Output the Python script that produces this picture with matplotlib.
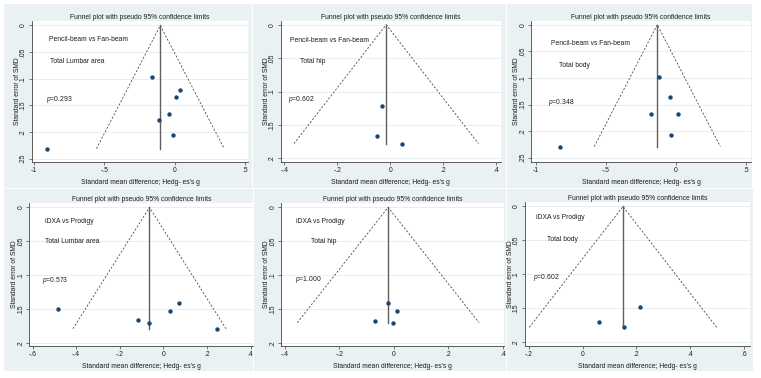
import matplotlib
matplotlib.use("Agg")
import numpy as np
from matplotlib import pyplot as plt
from matplotlib.patches import Rectangle

plt.rcParams['font.family'] = ['Liberation Sans', 'DejaVu Sans']
plt.rcParams['mathtext.fontset'] = 'custom'
plt.rcParams['mathtext.it'] = 'Liberation Sans:italic'
plt.rcParams['mathtext.rm'] = 'Liberation Sans'

# data
comparisons = ["Pencil-beam vs Fan-beam", "Pencil-beam vs Fan-beam", "Pencil-beam vs Fan-beam",
               "iDXA vs Prodigy", "iDXA vs Prodigy", "iDXA vs Prodigy"]
sites = ["Total Lumbar area", "Total hip", "Total body",
         "Total Lumbar area", "Total hip", "Total body"]
p_values = ["0.293", "0.602", "0.348", "0.573", "1.000", "0.602"]
pooled_smd = [-0.102, -0.015, -0.134, -0.064, -0.021, 0.150]

smd_1 = [-0.903, -0.158, 0.038, 0.009, -0.043, -0.113, -0.014]
se_1 = [0.231, 0.0975, 0.121, 0.134, 0.166, 0.177, 0.205]
smd_2 = [-0.031, -0.048, 0.045]
se_2 = [0.122, 0.167, 0.178]
smd_3 = [-0.830, -0.122, -0.043, -0.179, 0.010, -0.038]
se_3 = [0.229, 0.0975, 0.135, 0.1675, 0.1675, 0.207]
smd_4 = [-0.484, -0.115, -0.066, 0.031, 0.070, 0.246]
se_4 = [0.1495, 0.1667, 0.1706, 0.153, 0.1416, 0.179]
smd_5 = [-0.021, 0.010, -0.071, -0.002]
se_5 = [0.141, 0.153, 0.167, 0.170]
smd_6 = [0.062, 0.155, 0.212]
se_6 = [0.1706, 0.178, 0.148]

smd_all = [smd_1, smd_2, smd_3, smd_4, smd_5, smd_6]
se_all = [se_1, se_2, se_3, se_4, se_5, se_6]

xticks_all = [[-1, -0.5, 0, 0.5], [-0.4, -0.2, 0, 0.2, 0.4], [-1, -0.5, 0, 0.5],
              [-0.6, -0.4, -0.2, 0, 0.2, 0.4], [-0.4, -0.2, 0, 0.2, 0.4],
              [-0.2, 0, 0.2, 0.4, 0.6]]
yticks_all = [[0, 0.05, 0.1, 0.15, 0.2, 0.25], [0, 0.05, 0.1, 0.15, 0.2],
              [0, 0.05, 0.1, 0.15, 0.2, 0.25], [0, 0.05, 0.1, 0.15, 0.2],
              [0, 0.05, 0.1, 0.15, 0.2], [0, 0.05, 0.1, 0.15, 0.2]]

# layout in pixels: (left, top, right, bottom) of the plot region
W, H = 761, 378
plot_px = [(31.7, 20.7, 248.3, 162), (280.7, 20.7, 500.7, 162), (531.3, 20.7, 750.7, 162),
           (29.3, 203, 253.3, 345.7), (281.3, 203, 504, 345.7), (524.7, 201.7, 749.7, 345.7)]
bg_px = [(4, 4, 252, 188), (253, 4, 506, 188), (507, 4, 752, 188),
         (4, 189, 253, 371), (254, 189, 506, 371), (507, 189, 753, 371)]
xlims = [(-1.014, 0.522), (-0.414, 0.418), (-1.031, 0.531),
         (-0.615, 0.412), (-0.413, 0.404), (-0.216, 0.622)]
ylims = [(0.256, -0.009), (0.2055, -0.006), (0.258, -0.0075),
         (0.204, -0.0064), (0.204, -0.0064), (0.205, -0.007)]
# text anchors (x, y) in data units: comparison, site, p value
label_pos = [[(-0.889, 0.027), (-0.885, 0.0675), (-0.91, 0.139)],
             [(-0.38, 0.023), (-0.342, 0.055), (-0.386, 0.112)],
             [(-0.89, 0.036), (-0.835, 0.077), (-0.91, 0.147)],
             [(-0.544, 0.021), (-0.544, 0.051), (-0.559, 0.108)],
             [(-0.358, 0.021), (-0.304, 0.051), (-0.364, 0.106)],
             [(-0.173, 0.016), (-0.132, 0.048), (-0.185, 0.104)]]

BG = '#E9F1F3'
NAVY = '#1A476F'
FS = 4.9
TXT = '#1E1E1E'


def stata_fmt(v):
    s = ('%g' % round(v, 3))
    if s.startswith('0.'):
        s = s[1:]
    elif s.startswith('-0.'):
        s = '-' + s[2:]
    return s


fig = plt.figure(figsize=(W / 100, H / 100), dpi=100)
fig.patch.set_facecolor('white')

for i in range(6):
    l, t, r, b = bg_px[i]
    rect = Rectangle((l / W, 1 - b / H), (r - l) / W, (b - t) / H,
                     transform=fig.transFigure, facecolor=BG, edgecolor='none')
    rect.set_zorder(-10)
    fig.add_artist(rect)

for i in range(6):
    l, t, r, b = plot_px[i]
    w_px, h_px = r - l, b - t
    ax = fig.add_axes([l / W, 1 - b / H, w_px / W, h_px / H])
    ax.set_zorder(1)
    ax.set_facecolor('white')
    smd = np.array(smd_all[i])
    se = np.array(se_all[i])
    mu = pooled_smd[i]
    se_max = se.max()

    # gridlines at y ticks
    for yt in yticks_all[i]:
        ax.axhline(yt, color='#E4ECEF', lw=0.6, zorder=0)

    # pseudo 95% confidence limits
    ax.plot([mu - 1.96 * se_max, mu, mu + 1.96 * se_max], [se_max, 0, se_max],
            color='#4A4A4A', lw=0.6, ls=(0, (2.5, 2)), zorder=2)
    ax.plot([mu, mu], [0, se_max], color='#5F5F5F', lw=1.0, zorder=2)
    ax.scatter(smd, se, s=10, color=NAVY, zorder=3, linewidths=0)

    ax.set_xlim(*xlims[i])
    ax.set_ylim(*ylims[i])
    ax.set_xticks(xticks_all[i])
    ax.set_xticklabels([stata_fmt(v) for v in xticks_all[i]])
    ax.set_yticks(yticks_all[i])
    ax.set_yticklabels([stata_fmt(v) for v in yticks_all[i]], rotation=90, va='center')

    for side in ['top', 'right']:
        ax.spines[side].set_visible(False)
    for side in ['left', 'bottom']:
        ax.spines[side].set_color('#444444')
        ax.spines[side].set_linewidth(0.6)
    ax.tick_params(length=2, width=0.5, color='#444444', pad=1.5, labelsize=FS,
                   labelcolor=TXT)

    ax.set_title("Funnel plot with pseudo 95% confidence limits", fontsize=FS, pad=1.5,
                 color=TXT)
    ax.set_xlabel("Standard mean difference; Hedg- es's g", fontsize=FS, color=TXT,
                  va='center')
    ax.set_ylabel("Standard error of SMD", fontsize=FS, color=TXT, va='center')
    ax.xaxis.set_label_coords(0.5, -20.5 / h_px)
    ax.yaxis.set_label_coords(-14.5 / w_px, 0.5)

    (cx, cy), (sx, sy), (px, py) = label_pos[i]
    ax.text(cx, cy, comparisons[i], fontsize=FS, ha='left', va='center', color=TXT)
    ax.text(sx, sy, sites[i], fontsize=FS, ha='left', va='center', color=TXT)
    ax.text(px, py, '$p$=' + p_values[i], fontsize=FS, ha='left', va='center', color=TXT)

fig.savefig('out.png', dpi=100, facecolor='white')
